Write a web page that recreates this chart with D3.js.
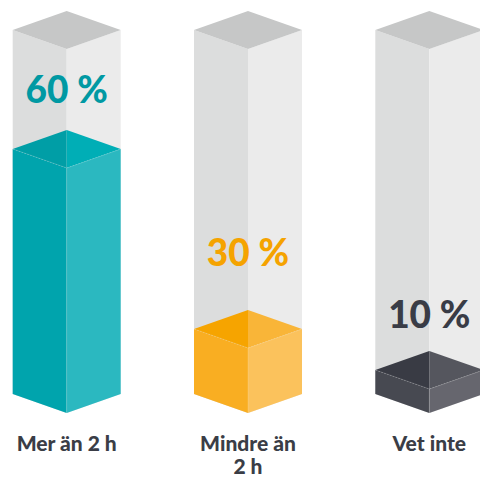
<!DOCTYPE html>
<html>
<head>
<meta charset="utf-8">
<script src="https://cdn.jsdelivr.net/npm/d3@7"></script>
<style>
  html, body { margin: 0; padding: 0; background: #fff; }
  svg { display: block; }
</style>
</head>
<body>
<div id="chart"></div>
<script>
// 3D column "glass" chart: share of answers per category

const categories = ["Mer än 2 h", "Mindre än 2 h", "Vet inte"];
const labelLines = [["Mer än 2 h"], ["Mindre än", "2 h"], ["Vet inte"]];
const values = [60, 30, 10];

// face colours per bar: [left, right, top-left, top-right]
const palette = [
  ["#00a4ad", "#2bb8c0", "#009ea6", "#00aeb6"],
  ["#f9ae22", "#fbc25c", "#f6a400", "#f9b538"],
  ["#474951", "#66666e", "#393b44", "#55565e"]
];
const textColor = ["#0099a3", "#f5a300", "#393c46"];
// how far above the fill top each % label sits (hand placed in the original)
const labelLift = [27, 44, 23];

const width = 480;
const height = 480;
const halfW = 54;     // half width of a column
const dy = 19;        // half height of the top diamond
const colTop = 30;    // y of side corners at the top of the glass
const colBottom = 394; // y of side corners at the bottom

const svg = d3.select("#chart")
  .append("svg")
  .attr("width", width)
  .attr("height", height);

const x = d3.scalePoint()
  .domain(categories)
  .range([66.7, 429.3]);

// the original infographic isn't drawn to a linear scale
const h = d3.scaleLinear()
  .domain([0, 10, 30, 60, 100])
  .range([0, 24, 65, 245, colBottom - colTop]);

const poly = pts => pts.map(p => p.join(",")).join(" ");

const bars = svg.selectAll("g.bar")
  .data(categories)
  .enter()
  .append("g")
  .attr("class", "bar");

bars.each(function (cat, i) {
  const g = d3.select(this);
  const cx = x(cat);
  const L = cx - halfW, R = cx + halfW;

  // empty glass
  g.append("polygon")
    .attr("points", poly([[L, colTop], [cx, colTop + dy], [cx, colBottom + dy], [L, colBottom]]))
    .attr("fill", "#dcdddd");
  g.append("polygon")
    .attr("points", poly([[cx, colTop + dy], [R, colTop], [R, colBottom], [cx, colBottom + dy]]))
    .attr("fill", "#ebebeb");
  g.append("polygon")
    .attr("points", poly([[L, colTop], [cx, colTop - dy], [R, colTop], [cx, colTop + dy]]))
    .attr("fill", "#c6c7c7");

  // filled part
  const top = colBottom - h(values[i]);
  const c = palette[i];
  g.append("polygon")
    .attr("points", poly([[L, top], [cx, top + dy], [cx, colBottom + dy], [L, colBottom]]))
    .attr("fill", c[0]);
  g.append("polygon")
    .attr("points", poly([[cx, top + dy], [R, top], [R, colBottom], [cx, colBottom + dy]]))
    .attr("fill", c[1]);
  g.append("polygon")
    .attr("points", poly([[L, top], [cx, top - dy], [cx, top + dy]]))
    .attr("fill", c[2]);
  g.append("polygon")
    .attr("points", poly([[cx, top - dy], [R, top], [cx, top + dy]]))
    .attr("fill", c[3]);
  // faint edges on the front of the fill
  g.append("polyline")
    .attr("points", poly([[L, top], [cx, top + dy], [R, top]]))
    .attr("fill", "none")
    .attr("stroke", "#fff")
    .attr("stroke-opacity", 0.2)
    .attr("stroke-dasharray", "2,1");
  g.append("line")
    .attr("x1", cx).attr("x2", cx)
    .attr("y1", top + dy).attr("y2", colBottom + dy)
    .attr("stroke", "#fff")
    .attr("stroke-opacity", 0.15);

  // percentage label
  g.append("text")
    .attr("x", cx)
    .attr("y", top - dy - labelLift[i])
    .attr("text-anchor", "middle")
    .attr("font-family", "Lato, 'Open Sans', sans-serif")
    .attr("font-weight", 900)
    .attr("font-size", "37px")
    .attr("fill", textColor[i])
    .text(values[i] + " %");

  // category label
  const t = g.append("text")
    .attr("text-anchor", "middle")
    .attr("font-family", "Lato, 'Open Sans', sans-serif")
    .attr("font-weight", 900)
    .attr("font-size", "21px")
    .attr("fill", "#3a3d46");
  labelLines[i].forEach((line, k) => {
    t.append("tspan")
      .attr("x", cx)
      .attr("y", 451 + k * 23)
      .text(line);
  });
});
</script>
</body>
</html>
